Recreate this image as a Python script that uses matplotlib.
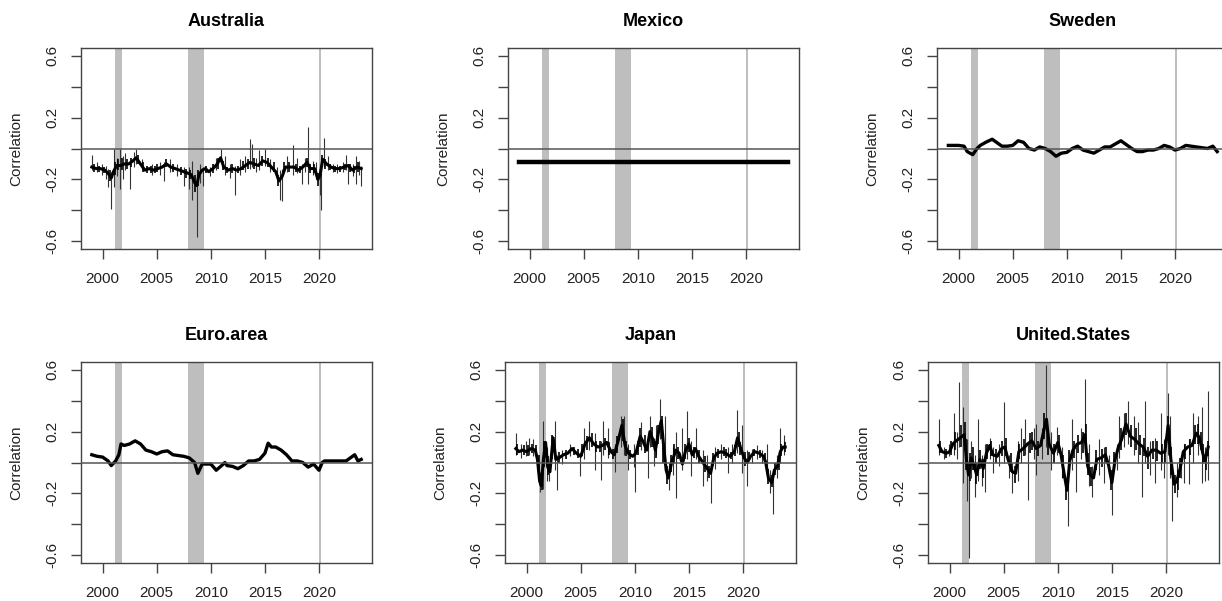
import matplotlib
matplotlib.use("Agg")
import matplotlib.pyplot as plt

plt.rcParams['font.family'] = ['Liberation Sans', 'DejaVu Sans']

# recession bands (start, end)
recessions = [(2001.15, 2001.8), (2007.88, 2009.37), (2020.0, 2020.22)]

# ---- Australia ----
aus_t = [1999.0, 1999.4, 1999.8, 2000.2, 2000.5, 2000.8, 2001.0, 2001.3, 2001.7, 2002.0,
         2002.4, 2002.8, 2003.1, 2003.5, 2003.9, 2004.3, 2004.7, 2005.1, 2005.5, 2005.9,
         2006.3, 2006.7, 2007.1, 2007.5, 2007.9, 2008.2, 2008.5, 2008.7, 2008.9, 2009.2,
         2009.5, 2009.8, 2010.2, 2010.6, 2010.9, 2011.2, 2011.6, 2012.0, 2012.4, 2012.8,
         2013.2, 2013.6, 2014.0, 2014.4, 2014.8, 2015.2, 2015.6, 2016.0, 2016.3, 2016.6,
         2016.9, 2017.3, 2017.7, 2018.1, 2018.5, 2018.9, 2019.2, 2019.6, 2019.9, 2020.1,
         2020.35, 2020.7, 2021.1, 2021.5, 2021.9, 2022.3, 2022.7, 2023.1, 2023.5, 2023.9]
aus_v = [-0.12, -0.13, -0.13, -0.14, -0.16, -0.19, -0.15, -0.11, -0.11, -0.10,
         -0.10, -0.08, -0.06, -0.10, -0.14, -0.13, -0.14, -0.13, -0.12, -0.10,
         -0.12, -0.13, -0.14, -0.15, -0.16, -0.17, -0.22, -0.24, -0.17, -0.14,
         -0.13, -0.15, -0.13, -0.10, -0.06, -0.12, -0.14, -0.13, -0.14, -0.13,
         -0.11, -0.09, -0.10, -0.11, -0.08, -0.09, -0.12, -0.15, -0.21, -0.18,
         -0.12, -0.12, -0.12, -0.14, -0.12, -0.09, -0.13, -0.13, -0.20, -0.17,
         -0.07, -0.10, -0.12, -0.13, -0.13, -0.12, -0.11, -0.14, -0.12, -0.13]
# large daily spikes: (time, low, high)
aus_spikes = [(1999.05, -0.14, -0.04), (1999.5, -0.15, -0.09), (1999.9, -0.17, -0.10),
              (2000.3, -0.20, -0.11), (2000.5, -0.25, -0.13), (2000.77, -0.39, -0.15),
              (2001.05, -0.25, 0.0), (2001.3, -0.18, -0.06), (2001.6, -0.26, 0.0),
              (2001.9, -0.20, -0.05), (2002.1, -0.14, -0.03), (2002.5, -0.26, -0.08),
              (2002.9, -0.12, -0.02), (2003.1, -0.10, 0.0), (2003.6, -0.13, -0.07),
              (2004.6, -0.17, -0.10), (2005.3, -0.17, -0.09), (2005.7, -0.21, -0.09),
              (2006.2, -0.15, -0.07), (2006.9, -0.18, -0.10), (2007.5, -0.24, -0.12),
              (2008.0, -0.26, -0.12), (2008.3, -0.33, -0.08), (2008.68, -0.57, -0.19),
              (2009.0, -0.22, -0.10), (2009.3, -0.24, -0.12), (2009.9, -0.18, -0.12),
              (2010.5, -0.14, -0.06), (2010.9, -0.09, 0.0), (2011.3, -0.17, -0.05),
              (2011.8, -0.19, -0.10), (2012.2, -0.30, -0.11), (2012.7, -0.17, -0.07),
              (2013.2, -0.15, -0.05), (2013.6, -0.13, 0.06), (2013.85, -0.12, 0.03),
              (2014.2, -0.15, -0.06), (2014.5, -0.14, -0.01), (2015.0, -0.11, 0.0),
              (2015.5, -0.15, -0.07), (2016.1, -0.20, -0.12), (2016.4, -0.33, -0.14),
              (2016.6, -0.34, -0.13), (2017.0, -0.15, -0.05), (2017.6, -0.17, 0.02),
              (2018.0, -0.16, -0.06), (2018.4, -0.23, -0.10), (2018.7, -0.15, -0.06),
              (2019.0, -0.23, 0.14), (2019.4, -0.17, -0.08), (2019.7, -0.20, -0.09),
              (2020.05, -0.30, -0.14), (2020.2, -0.40, -0.13), (2020.45, -0.12, 0.07),
              (2020.8, -0.14, -0.05), (2021.3, -0.15, -0.10), (2021.7, -0.16, -0.10),
              (2022.2, -0.15, -0.09), (2022.5, -0.14, -0.04), (2022.7, -0.23, -0.10),
              (2023.1, -0.18, -0.10), (2023.4, -0.23, -0.05), (2023.7, -0.17, -0.08),
              (2023.9, -0.24, -0.11)]
# small day-to-day swings around the band
aus_noise = [(1999.2, -0.15, -0.10), (1999.7, -0.15, -0.11), (2000.1, -0.16, -0.12),
             (2000.65, -0.21, -0.14), (2001.15, -0.17, -0.09), (2001.45, -0.14, -0.07),
             (2001.8, -0.14, -0.06), (2002.25, -0.13, -0.07), (2002.65, -0.12, -0.06),
             (2003.3, -0.10, -0.04), (2003.75, -0.15, -0.09), (2004.1, -0.16, -0.11),
             (2004.45, -0.16, -0.11), (2004.85, -0.16, -0.11), (2005.0, -0.15, -0.10),
             (2005.9, -0.12, -0.07), (2006.5, -0.15, -0.10), (2007.2, -0.17, -0.12),
             (2007.7, -0.19, -0.13), (2008.1, -0.20, -0.14), (2008.55, -0.28, -0.17),
             (2008.85, -0.24, -0.14), (2009.6, -0.16, -0.11), (2010.2, -0.16, -0.10),
             (2010.7, -0.13, -0.06), (2011.1, -0.14, -0.08), (2011.5, -0.16, -0.12),
             (2012.0, -0.16, -0.10), (2012.5, -0.16, -0.11), (2013.0, -0.14, -0.08),
             (2013.4, -0.13, -0.07), (2014.0, -0.13, -0.06), (2014.7, -0.11, -0.05),
             (2015.3, -0.12, -0.06), (2015.8, -0.15, -0.09), (2016.25, -0.24, -0.17),
             (2016.8, -0.16, -0.09), (2017.2, -0.15, -0.09), (2017.9, -0.15, -0.10),
             (2018.2, -0.16, -0.11), (2018.85, -0.12, -0.06), (2019.2, -0.16, -0.10),
             (2019.55, -0.16, -0.10), (2019.9, -0.24, -0.16), (2020.3, -0.11, -0.04),
             (2020.6, -0.13, -0.07), (2021.0, -0.14, -0.10), (2021.5, -0.15, -0.11),
             (2021.9, -0.15, -0.11), (2022.4, -0.14, -0.10), (2022.9, -0.15, -0.10),
             (2023.2, -0.16, -0.11), (2023.6, -0.15, -0.09)]

# ---- Mexico ----
mex_t = [1999.0, 2023.9]
mex_v = [-0.085, -0.085]

# ---- Sweden ----
swe_t = [1999.05, 1999.5, 2000.0, 2000.5, 2000.8, 2001.3, 2001.7, 2002.0, 2002.5, 2003.1,
         2003.5, 2004.0, 2004.5, 2005.0, 2005.5, 2006.0, 2006.5, 2007.0, 2007.5, 2008.0,
         2008.5, 2009.0, 2009.5, 2010.0, 2010.5, 2011.0, 2011.5, 2012.0, 2012.5, 2013.0,
         2013.5, 2014.0, 2014.5, 2015.0, 2015.5, 2016.0, 2016.5, 2017.0, 2017.5, 2018.0,
         2018.5, 2019.0, 2019.5, 2020.0, 2020.5, 2021.0, 2021.5, 2022.0, 2022.5, 2023.0,
         2023.5, 2023.9]
swe_v = [0.02, 0.02, 0.02, 0.015, -0.02, -0.04, 0.0, 0.02, 0.04, 0.06,
         0.04, 0.015, 0.015, 0.02, 0.05, 0.04, 0.0, -0.01, 0.01, 0.0,
         -0.02, -0.05, -0.03, -0.025, 0.0, 0.015, -0.01, -0.02, -0.03, -0.01,
         0.01, 0.01, 0.03, 0.05, 0.025, 0.0, -0.02, -0.02, -0.01, -0.01,
         0.0, 0.02, 0.01, -0.01, 0.0, 0.02, 0.015, 0.01, 0.005, 0.0,
         0.015, -0.02]

# ---- Euro area ----
eur_t = [1999.0, 1999.5, 2000.0, 2000.5, 2000.8, 2001.2, 2001.5, 2001.7, 2002.0, 2002.5,
         2003.0, 2003.5, 2004.0, 2004.5, 2005.0, 2005.5, 2006.0, 2006.5, 2007.0, 2007.5,
         2008.0, 2008.5, 2008.8, 2009.2, 2009.5, 2010.0, 2010.5, 2011.0, 2011.3, 2011.5,
         2012.0, 2012.5, 2013.0, 2013.5, 2014.0, 2014.5, 2015.0, 2015.3, 2015.6, 2016.0,
         2016.5, 2017.0, 2017.5, 2018.0, 2018.5, 2019.0, 2019.5, 2020.0, 2020.3, 2020.5,
         2021.0, 2021.5, 2022.0, 2022.5, 2023.0, 2023.3, 2023.6, 2023.9]
eur_v = [0.05, 0.04, 0.035, 0.01, -0.02, 0.01, 0.05, 0.12, 0.11, 0.12,
         0.14, 0.12, 0.08, 0.07, 0.055, 0.07, 0.075, 0.05, 0.045, 0.04,
         0.03, 0.0, -0.07, -0.01, -0.01, -0.01, -0.05, -0.02, 0.0, -0.02,
         -0.025, -0.04, -0.02, 0.01, 0.01, 0.02, 0.06, 0.125, 0.10, 0.10,
         0.08, 0.05, 0.01, 0.01, 0.0, -0.03, -0.01, -0.05, 0.0, 0.01,
         0.01, 0.01, 0.01, 0.01, 0.035, 0.05, 0.01, 0.02]

# ---- Japan ----
jpn_t = [1999.0, 1999.3, 1999.6, 2000.0, 2000.4, 2000.8, 2001.0, 2001.2, 2001.35, 2001.55,
         2001.75, 2001.95, 2002.15, 2002.45, 2002.7, 2003.0, 2003.4, 2003.8, 2004.2, 2004.6,
         2005.0, 2005.4, 2005.8, 2006.2, 2006.6, 2007.0, 2007.4, 2007.8, 2008.1, 2008.5,
         2008.8, 2009.1, 2009.4, 2009.8, 2010.1, 2010.5, 2010.8, 2011.1, 2011.4, 2011.7,
         2011.9, 2012.2, 2012.45, 2012.7, 2012.9, 2013.1, 2013.4, 2013.8, 2014.1, 2014.4,
         2014.7, 2015.0, 2015.3, 2015.6, 2015.9, 2016.3, 2016.7, 2017.0, 2017.3, 2017.6,
         2018.0, 2018.4, 2018.8, 2019.2, 2019.5, 2019.8, 2020.1, 2020.4, 2020.7, 2021.1,
         2021.5, 2021.9, 2022.1, 2022.35, 2022.65, 2022.9, 2023.2, 2023.45, 2023.7, 2023.9]
jpn_v = [0.09, 0.07, 0.08, 0.07, 0.09, 0.08, 0.02, -0.12, -0.15, 0.02,
         0.13, -0.03, -0.06, 0.16, 0.02, 0.03, 0.05, 0.06, 0.09, 0.06,
         0.04, 0.12, 0.16, 0.12, 0.10, 0.11, 0.13, 0.07, 0.05, 0.15,
         0.24, 0.11, 0.06, 0.04, 0.06, 0.17, 0.13, 0.08, 0.20, 0.14,
         0.08, 0.20, 0.27, 0.08, -0.05, -0.10, 0.0, 0.08, 0.06, -0.01,
         0.08, 0.12, 0.05, 0.09, 0.04, 0.0, -0.04, -0.07, 0.03, 0.06,
         0.07, 0.06, 0.04, 0.07, 0.16, 0.09, 0.03, 0.0, 0.04, 0.07,
         0.06, 0.04, 0.0, -0.10, -0.13, -0.05, -0.02, 0.07, 0.10, 0.10]
jpn_spikes = [(1999.0, 0.05, 0.19), (1999.5, 0.03, 0.12), (1999.9, 0.04, 0.14),
              (2000.2, 0.05, 0.16), (2000.6, 0.04, 0.15), (2001.25, -0.19, -0.06),
              (2001.5, -0.17, 0.27), (2001.9, -0.12, 0.10), (2002.1, -0.12, 0.0),
              (2002.6, -0.05, 0.27), (2002.8, -0.18, 0.05), (2003.3, -0.01, 0.08),
              (2004.0, 0.04, 0.12), (2004.9, -0.09, 0.06), (2005.3, 0.02, 0.22),
              (2005.8, 0.08, 0.27), (2006.3, -0.05, 0.19), (2006.9, -0.11, 0.14),
              (2007.05, 0.05, 0.27), (2007.5, 0.03, 0.22), (2008.2, -0.06, 0.12),
              (2008.7, 0.10, 0.30), (2009.0, 0.05, 0.30), (2009.4, -0.05, 0.12),
              (2009.9, -0.03, 0.12), (2010.05, -0.19, 0.08), (2010.6, 0.08, 0.26),
              (2011.2, -0.10, 0.15), (2011.4, 0.10, 0.30), (2011.8, -0.02, 0.16),
              (2012.0, 0.05, 0.24), (2012.35, 0.15, 0.41), (2012.8, -0.05, 0.30),
              (2013.15, -0.18, 0.0), (2013.5, -0.08, 0.10), (2013.8, -0.23, 0.20),
              (2014.4, -0.05, 0.22), (2014.8, 0.02, 0.33), (2015.2, -0.09, 0.14),
              (2015.7, 0.02, 0.22), (2016.3, -0.15, 0.08), (2016.7, -0.12, 0.05),
              (2017.0, -0.26, 0.0), (2017.4, -0.04, 0.10), (2018.0, 0.02, 0.12),
              (2018.6, -0.07, 0.10), (2019.0, 0.0, 0.12), (2019.4, 0.06, 0.34),
              (2019.9, -0.07, 0.24), (2020.4, -0.15, 0.08), (2020.8, 0.0, 0.09),
              (2021.3, 0.02, 0.11), (2021.8, 0.0, 0.08), (2022.2, -0.05, 0.12),
              (2022.5, -0.20, -0.05), (2022.8, -0.33, -0.06), (2023.1, -0.10, 0.05),
              (2023.4, 0.0, 0.22), (2023.8, 0.05, 0.18)]
jpn_noise = [(1999.15, 0.05, 0.12), (1999.75, 0.05, 0.11), (2000.1, 0.04, 0.11),
             (2000.5, 0.06, 0.12), (2000.9, 0.05, 0.11), (2001.1, -0.08, 0.05),
             (2001.4, -0.18, -0.08), (2001.65, -0.03, 0.14), (2002.0, -0.08, 0.04),
             (2002.3, 0.02, 0.18), (2002.95, 0.0, 0.07), (2003.6, 0.02, 0.08),
             (2004.4, 0.05, 0.10), (2004.75, 0.03, 0.09), (2005.15, 0.04, 0.12),
             (2005.6, 0.08, 0.17), (2006.05, 0.10, 0.19), (2006.45, 0.07, 0.14),
             (2006.75, 0.07, 0.14), (2007.25, 0.08, 0.16), (2007.65, 0.05, 0.13),
             (2007.95, 0.02, 0.09), (2008.35, 0.06, 0.17), (2008.9, 0.14, 0.28),
             (2009.2, 0.04, 0.14), (2009.6, 0.02, 0.08), (2010.3, 0.05, 0.14),
             (2010.45, 0.10, 0.22), (2010.9, 0.06, 0.18), (2011.55, 0.10, 0.23),
             (2011.95, 0.03, 0.14), (2012.15, 0.12, 0.24), (2012.5, 0.15, 0.30),
             (2012.65, 0.0, 0.18), (2013.0, -0.14, -0.02), (2013.3, -0.06, 0.05),
             (2013.65, 0.0, 0.12), (2014.0, 0.02, 0.10), (2014.6, 0.02, 0.12),
             (2015.0, 0.07, 0.16), (2015.45, 0.03, 0.10), (2015.9, 0.0, 0.08),
             (2016.5, -0.06, 0.04), (2016.9, -0.10, -0.02), (2017.2, -0.02, 0.06),
             (2017.7, 0.03, 0.09), (2018.2, 0.04, 0.10), (2018.45, 0.03, 0.09),
             (2018.9, 0.02, 0.07), (2019.25, 0.04, 0.11), (2019.6, 0.10, 0.20),
             (2019.75, 0.05, 0.13), (2020.15, -0.02, 0.07), (2020.6, 0.01, 0.07),
             (2021.0, 0.04, 0.09), (2021.6, 0.03, 0.08), (2022.0, 0.0, 0.06),
             (2022.35, -0.14, -0.04), (2022.7, -0.16, -0.08), (2023.0, -0.08, 0.0),
             (2023.3, -0.05, 0.04), (2023.55, 0.04, 0.12), (2023.85, 0.07, 0.13)]

# ---- United States ----
usa_t = [1999.0, 1999.3, 1999.7, 2000.0, 2000.3, 2000.6, 2001.0, 2001.35, 2001.55, 2001.75,
         2002.0, 2002.25, 2002.5, 2002.8, 2003.1, 2003.4, 2003.7, 2004.0, 2004.4, 2004.8,
         2005.1, 2005.4, 2005.8, 2006.1, 2006.4, 2006.8, 2007.2, 2007.6, 2008.0, 2008.4,
         2008.75, 2008.95, 2009.2, 2009.6, 2010.0, 2010.3, 2010.6, 2010.85, 2011.1, 2011.4,
         2011.8, 2012.2, 2012.5, 2012.75, 2013.0, 2013.3, 2013.6, 2014.0, 2014.4, 2014.7,
         2015.0, 2015.3, 2015.6, 2015.9, 2016.3, 2016.7, 2017.1, 2017.5, 2017.9, 2018.3,
         2018.7, 2019.1, 2019.5, 2019.9, 2020.2, 2020.45, 2020.75, 2021.0, 2021.3, 2021.6,
         2022.0, 2022.4, 2022.8, 2023.1, 2023.4, 2023.6, 2023.9]
usa_v = [0.11, 0.07, 0.06, 0.07, 0.12, 0.14, 0.16, 0.18, 0.02, -0.08,
         0.03, -0.02, -0.08, 0.02, -0.04, 0.06, 0.11, 0.05, 0.04, 0.09,
         0.10, 0.02, -0.06, -0.07, 0.07, 0.09, 0.12, 0.14, 0.09, 0.11,
         0.22, 0.28, 0.12, 0.06, 0.13, 0.05, -0.08, -0.18, 0.01, 0.08,
         0.12, 0.13, 0.18, -0.02, -0.08, -0.10, 0.02, 0.03, 0.05, -0.02,
         -0.13, 0.02, 0.10, 0.15, 0.25, 0.17, 0.15, 0.12, 0.10, 0.04,
         0.08, 0.08, 0.06, 0.07, 0.24, 0.02, -0.14, -0.12, -0.04, 0.07,
         0.10, 0.11, 0.19, 0.16, 0.06, 0.01, 0.10]
usa_spikes = [(1999.0, 0.05, 0.28), (1999.5, 0.02, 0.10), (1999.9, 0.04, 0.12),
              (2000.4, 0.05, 0.32), (2000.7, 0.02, 0.20), (2000.9, 0.10, 0.52),
              (2001.2, -0.13, 0.36), (2001.6, -0.25, 0.15), (2001.75, -0.62, -0.02),
              (2002.0, -0.10, 0.14), (2002.3, -0.22, 0.05), (2002.6, -0.12, 0.28),
              (2003.0, -0.15, 0.05), (2003.25, -0.19, 0.12), (2003.7, 0.02, 0.16),
              (2004.0, -0.07, 0.10), (2004.6, -0.02, 0.12), (2005.0, 0.0, 0.39),
              (2005.5, -0.10, 0.05), (2005.8, -0.20, 0.0), (2006.3, -0.12, 0.14),
              (2006.6, 0.0, 0.22), (2007.0, 0.05, 0.28), (2007.2, -0.24, 0.12),
              (2007.8, 0.02, 0.22), (2008.0, -0.08, 0.25), (2008.5, 0.02, 0.22),
              (2008.9, 0.10, 0.63), (2009.4, -0.05, 0.20), (2009.9, 0.05, 0.23),
              (2010.4, -0.10, 0.10), (2010.9, -0.41, -0.08), (2011.3, -0.05, 0.28),
              (2011.7, -0.19, 0.10), (2012.1, 0.02, 0.22), (2012.5, 0.06, 0.54),
              (2012.9, -0.15, 0.12), (2013.2, -0.22, -0.02), (2013.8, -0.08, 0.15),
              (2014.3, -0.13, 0.10), (2014.7, -0.08, 0.05), (2015.0, -0.34, -0.05),
              (2015.5, -0.05, 0.12), (2015.7, 0.03, 0.30), (2016.1, 0.10, 0.32),
              (2016.5, 0.12, 0.40), (2017.0, 0.05, 0.30), (2017.4, 0.0, 0.26),
              (2017.8, -0.22, 0.10), (2018.05, 0.0, 0.40), (2018.5, -0.08, 0.14),
              (2019.0, -0.13, 0.16), (2019.5, -0.05, 0.32), (2019.85, -0.10, 0.15),
              (2020.2, 0.05, 0.45), (2020.35, -0.10, 0.30), (2020.6, -0.38, 0.0),
              (2021.0, -0.22, 0.0), (2021.4, -0.10, 0.05), (2021.7, -0.13, 0.12),
              (2022.1, -0.14, 0.15), (2022.5, 0.0, 0.32), (2023.0, 0.05, 0.30),
              (2023.3, -0.13, 0.36), (2023.6, -0.12, 0.10), (2023.9, -0.11, 0.46)]
usa_noise = [(1999.15, 0.06, 0.14), (1999.7, 0.03, 0.09), (2000.15, 0.05, 0.14),
             (2000.5, 0.08, 0.20), (2001.05, 0.10, 0.24), (2001.4, 0.08, 0.26),
             (2001.5, -0.05, 0.15), (2001.9, -0.12, 0.06), (2002.15, -0.05, 0.10),
             (2002.45, -0.14, 0.0), (2002.85, -0.04, 0.08), (2003.05, -0.10, 0.02),
             (2003.5, 0.02, 0.12), (2003.85, 0.04, 0.14), (2004.25, 0.0, 0.09),
             (2004.8, 0.04, 0.14), (2005.2, 0.04, 0.16), (2005.65, -0.06, 0.06),
             (2006.05, -0.13, -0.02), (2006.4, 0.02, 0.12), (2006.85, 0.04, 0.15),
             (2007.4, 0.06, 0.19), (2007.65, 0.08, 0.20), (2008.2, 0.04, 0.14),
             (2008.7, 0.15, 0.32), (2009.1, 0.05, 0.20), (2009.65, 0.0, 0.12),
             (2010.1, 0.06, 0.18), (2010.5, -0.10, 0.05), (2010.75, -0.24, -0.10),
             (2011.05, -0.06, 0.08), (2011.5, 0.03, 0.14), (2011.9, 0.06, 0.18),
             (2012.3, 0.06, 0.20), (2012.65, 0.05, 0.25), (2012.8, -0.08, 0.06),
             (2013.1, -0.15, -0.03), (2013.5, -0.05, 0.08), (2014.1, -0.03, 0.09),
             (2014.5, 0.0, 0.10), (2014.9, -0.18, -0.05), (2015.2, -0.06, 0.07),
             (2015.85, 0.08, 0.22), (2016.3, 0.18, 0.32), (2016.75, 0.10, 0.24),
             (2017.2, 0.08, 0.22), (2017.6, 0.05, 0.18), (2018.0, 0.04, 0.16),
             (2018.35, -0.04, 0.10), (2018.8, 0.02, 0.14), (2019.2, 0.01, 0.14),
             (2019.6, 0.0, 0.12), (2019.95, 0.0, 0.14), (2020.15, 0.15, 0.30),
             (2020.5, -0.08, 0.10), (2020.8, -0.20, -0.08), (2021.1, -0.18, -0.05),
             (2021.3, -0.10, 0.03), (2021.8, 0.02, 0.12), (2022.2, 0.05, 0.15),
             (2022.7, 0.12, 0.24), (2022.95, 0.12, 0.25), (2023.2, 0.08, 0.20),
             (2023.45, 0.0, 0.12), (2023.7, -0.05, 0.06), (2023.85, 0.04, 0.14)]

W, H = 1222, 601
fig = plt.figure(figsize=(W / 100, H / 100), dpi=100)
box_w, box_h = 291, 201

# (title, left px, top px, times, values, spikes, noise, line width)
panels = [
    ("Australia", 81, 48, aus_t, aus_v, aus_spikes, aus_noise, 2.2),
    ("Mexico", 508, 48, mex_t, mex_v, None, None, 3.2),
    ("Sweden", 937, 48, swe_t, swe_v, None, None, 2.4),
    ("Euro.area", 81, 362, eur_t, eur_v, None, None, 2.4),
    ("Japan", 505, 362, jpn_t, jpn_v, jpn_spikes, jpn_noise, 2.2),
    ("United.States", 928, 362, usa_t, usa_v, usa_spikes, usa_noise, 2.2),
]

edge = '#444444'
for title, left, top, t, v, spikes, noise, lw in panels:
    ax = fig.add_axes([left / W, (H - top - box_h) / H, box_w / W, box_h / H])
    for a, b in recessions:
        ax.axvspan(a, b, color='#bebebe', lw=0, zorder=1)
    if spikes:
        ax.vlines([s[0] for s in spikes], [s[1] for s in spikes], [s[2] for s in spikes],
                  color='#333333', lw=0.8, zorder=2)
    if noise:
        ax.vlines([s[0] for s in noise], [s[1] for s in noise], [s[2] for s in noise],
                  color='black', lw=1.2, zorder=2)
    ax.plot(t, v, color='black', lw=lw, zorder=3)
    ax.axhline(0, color='#555555', lw=1.1, zorder=4)

    ax.set_xlim(1998.0, 2024.9)
    ax.set_ylim(-0.65, 0.65)
    ax.set_xticks([2000, 2005, 2010, 2015, 2020])
    ax.set_xticklabels(['2000', '2005', '2010', '2015', '2020'], fontsize=11, color='#222222')
    ax.set_yticks([-0.6, -0.4, -0.2, 0.0, 0.2, 0.4, 0.6])
    ax.set_yticklabels(['-0.6', '', '-0.2', '', '0.2', '', '0.6'], fontsize=11,
                       color='#222222', rotation=90, va='center')
    ax.tick_params(axis='both', length=7.5, width=1, color=edge)
    ax.tick_params(axis='x', pad=9)
    ax.tick_params(axis='y', pad=8)
    for sp in ax.spines.values():
        sp.set_color(edge)
        sp.set_linewidth(1)

    ax.text(0.5, 1 + 26 / box_h, title, transform=ax.transAxes, ha='center', va='center',
            fontsize=13, fontweight='bold', color='black')
    ax.text(-64.5 / box_w, 0.5, 'Correlation', transform=ax.transAxes, ha='center',
            va='center', rotation=90, fontsize=11, color='#222222')

fig.savefig('out.png', dpi=100)
